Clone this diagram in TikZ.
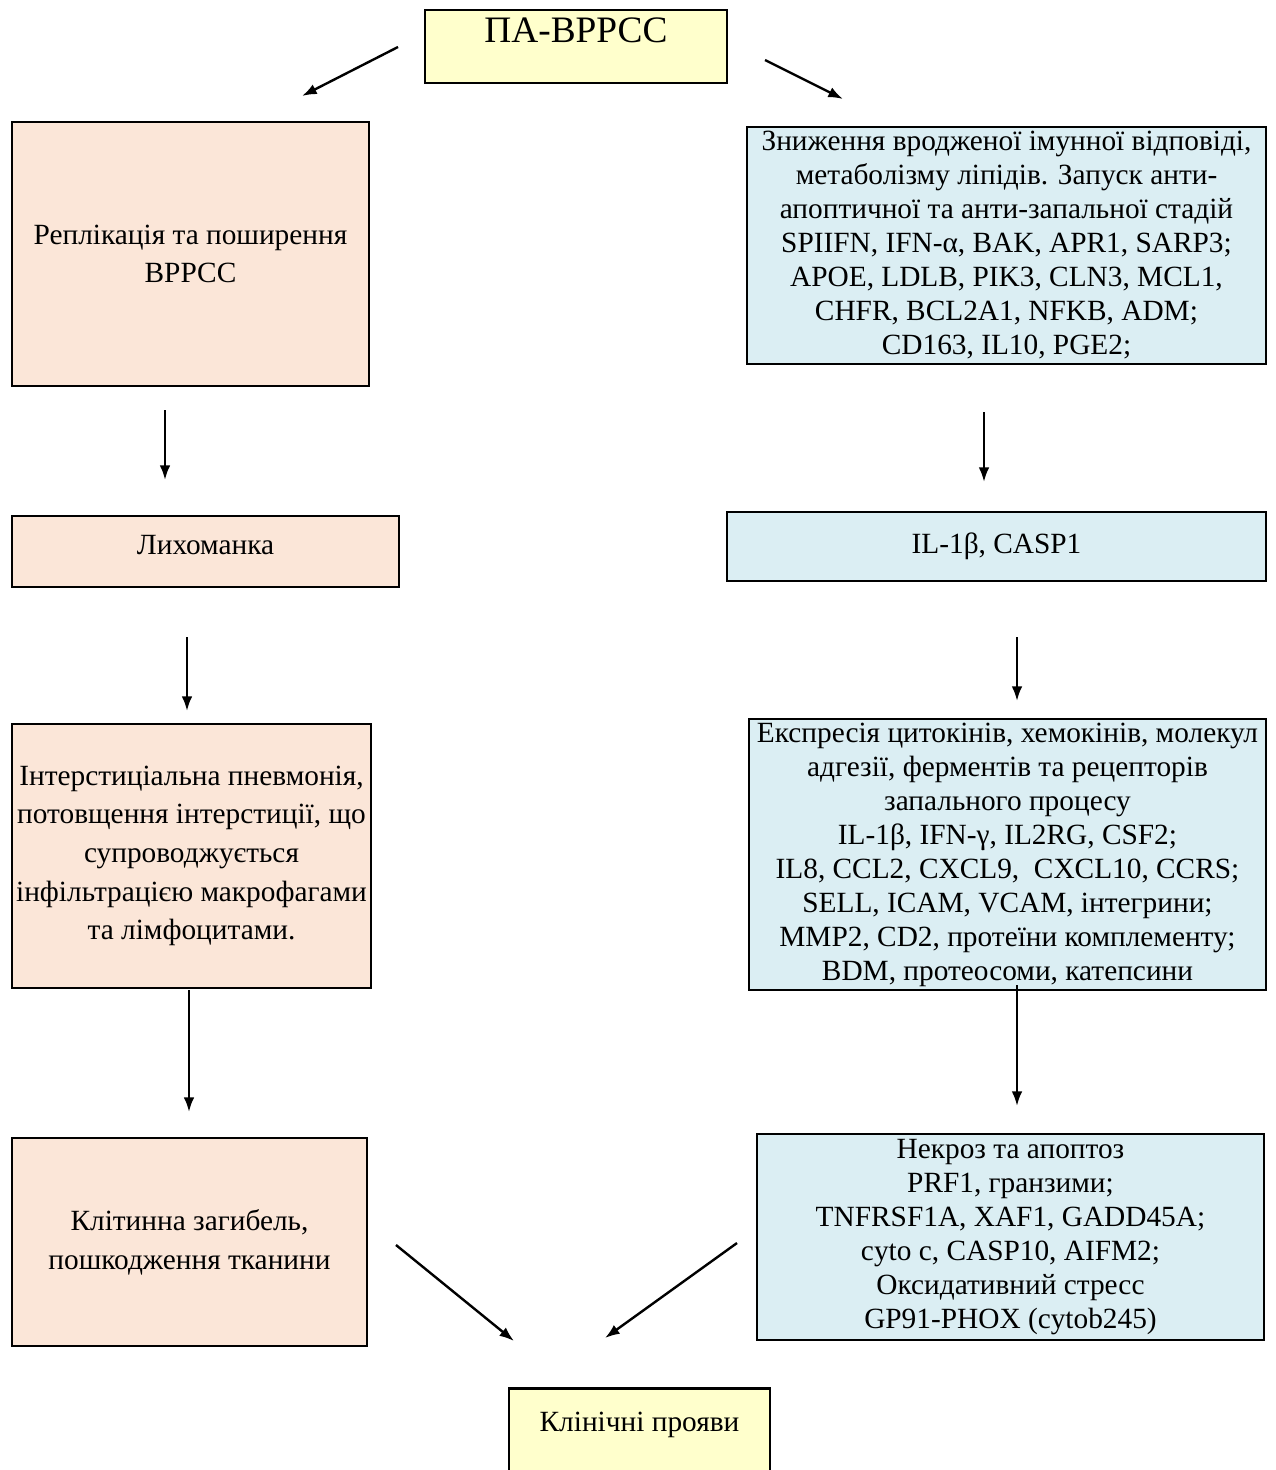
\documentclass[tikz,border=0pt]{standalone}
\usepackage{fontspec}
\setmainfont{Liberation Serif}
\usepackage{xcolor}
\usepackage{tikz}
\usetikzlibrary{arrows.meta}
\usetikzlibrary{positioning}

\definecolor{zhovtyi}{HTML}{FFFFCC}
\definecolor{personevyi}{HTML}{FBE6D8}
\definecolor{blakytnyi}{HTML}{DBEEF3}

\begin{document}
\begin{tikzpicture}[
    x=0.75pt, y=-0.75pt,
    >={Latex[length=11pt, width=8pt]},
    box/.style={draw=black, line width=1.9pt, inner sep=0pt, align=center,
        font=\fontsize{22}{25.5}\selectfont},
    rozm/.style 2 args={minimum width=#1*0.75pt, minimum height=#2*0.75pt},
    ybox/.style={box, fill=zhovtyi},
    pbox/.style={box, fill=personevyi, font=\fontsize{22}{29}\selectfont},
    bbox/.style={box, fill=blakytnyi},
    arr/.style={->, line width=1.8pt}
]
    \useasboundingbox (0,0) rectangle (1275,1470);

    % Початок
    \node[ybox, rozm={302}{73}, font=\fontsize{28}{34}\selectfont] (pa) at (576,46.5) {ПА-ВРРСС\\[-10pt]\mbox{}};

    % Ліва гілка
    \node[pbox, rozm={357}{264}] (repl) at (190.5,254) {Реплікація та поширення\\ВРРСС};
    \node[pbox, rozm={387}{71}, text depth=10pt] (lykh) at (205.5,551.5) {Лихоманка};
    \node[pbox, rozm={359}{264}] (pnevm) at (191.5,856) {Інтерстиціальна пневмонія,\\потовщення інтерстиції, що\\супроводжується\\інфільтрацією макрофагами\\та лімфоцитами.};
    \node[pbox, rozm={355}{208}] (zagyb) at (189.5,1242) {Клітинна загибель,\\пошкодження тканини};

    % Права гілка
    \node[bbox, rozm={519}{237}] (znyzh) at (1006.5,245.5) {Зниження вродженої імунної відповіді,\\метаболізму ліпідів. Запуск анти-\\апоптичної та анти-запальної стадій\\SPIIFN, IFN-α, BAK, APR1, SARP3;\\APOE, LDLB, PIK3, CLN3, MCL1,\\CHFR, BCL2A1, NFKB, ADM;\\CD163, IL10, PGE2;};
    \node[bbox, rozm={539}{69}] (il) at (996.5,546.5) {IL-1β, CASP1};
    \node[bbox, rozm={517}{271}] (ekspr) at (1007.5,854.5) {Експресія цитокінів, хемокінів, молекул\\адгезії, ферментів та рецепторів\\запального процесу\\IL-1β, IFN-γ, IL2RG, CSF2;\\IL8, CCL2, CXCL9,\ \ CXCL10, CCRS;\\SELL, ICAM, VCAM, інтегрини;\\MMP2, CD2, протеїни комплементу;\\BDM, протеосоми, катепсини};
    \node[bbox, rozm={507}{206}] (nekr) at (1010.5,1237) {Некроз та апоптоз\\PRF1, гранзими;\\TNFRSF1A, XAF1, GADD45A;\\cyto c, CASP10, AIFM2;\\Оксидативний стресс\\GP91-PHOX (cytob245)};

    % Кінець
    \node[ybox, rozm={261}{90}, anchor=north] (klin) at (639.5,1387) {Клінічні прояви\\[-8pt]\mbox{}};

    % Стрілки
    \coordinate (a1s) at (398,47);   \coordinate (a1e) at (302,96);
    \coordinate (a2s) at (765,60);   \coordinate (a2e) at (843,99);
    \coordinate (a3s) at (165,410);  \coordinate (a3e) at (165,480);
    \coordinate (a4s) at (984,412);  \coordinate (a4e) at (984,482);
    \coordinate (a5s) at (187,637);  \coordinate (a5e) at (187,711);
    \coordinate (a6s) at (1017,637); \coordinate (a6e) at (1017,701);
    \coordinate (a7s) at (189,990);  \coordinate (a7e) at (189,1112);
    \coordinate (a8s) at (1017,985); \coordinate (a8e) at (1017,1106);
    \coordinate (a9s) at (396,1245); \coordinate (a9e) at (514,1341);
    \coordinate (a10s) at (737,1243); \coordinate (a10e) at (605,1338);

    \foreach \i in {1,...,10}
        \draw[arr] (a\i s) -- (a\i e);

\end{tikzpicture}
\end{document}
